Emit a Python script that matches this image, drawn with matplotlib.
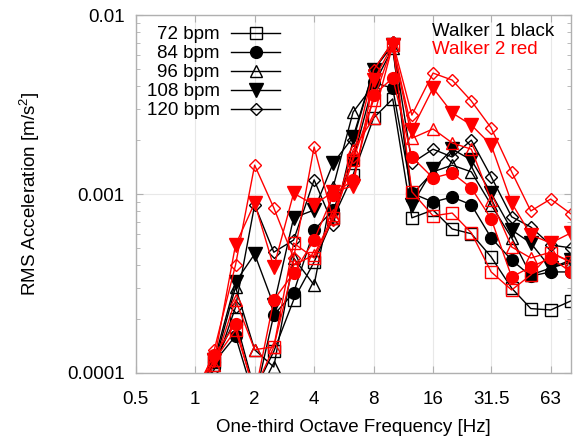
import matplotlib
matplotlib.use('Agg')

import matplotlib.pyplot as plt
from matplotlib.lines import Line2D
from matplotlib.ticker import FixedLocator, FixedFormatter, NullLocator, LogLocator

plt.rcParams['font.family'] = ['Liberation Sans', 'DejaVu Sans']
plt.rcParams['mathtext.fontset'] = 'custom'
plt.rcParams['mathtext.rm'] = 'Liberation Sans'

# ------------------ DATA ------------------

freq = [1, 1.25, 1.6, 2, 2.5, 3.15, 4, 5, 6.3, 8, 10, 12.5, 16, 20, 25, 31.5, 40, 50, 63, 80]

bpm_labels = ['72 bpm', '84 bpm', '96 bpm', '108 bpm', '120 bpm']

# Walker 1 (black)
w1_72 = [0.00008, 0.000115, 0.0002, 0.00008, 0.000132, 0.000256, 0.000417, 0.000736, 0.00128, 0.00266,
         0.0034, 0.000736, 0.000814, 0.000638, 0.0006, 0.000445, 0.000298, 0.000229, 0.000225, 0.000253]
w1_84 = [0.000071, 0.000115, 0.000161, 0.000071, 0.000211, 0.000281, 0.00063, 0.000814, 0.00155, 0.0042,
         0.0039, 0.00101, 0.000902, 0.000962, 0.00087, 0.000569, 0.000428, 0.000348, 0.000367, 0.000367]
w1_96 = [0.000075, 0.000111, 0.000302, 0.000135, 0.000108, 0.000439, 0.00031, 0.0011, 0.00287, 0.00406,
         0.00654, 0.00099, 0.00133, 0.00145, 0.00133, 0.00087, 0.000569, 0.000353, 0.000386, 0.000417]
w1_108 = [0.000075, 0.000118, 0.000322, 0.000462, 0.000239, 0.000736, 0.000814, 0.00149, 0.00208, 0.00493,
          0.0068, 0.00087, 0.00138, 0.00178, 0.00155, 0.00101, 0.00063, 0.000532, 0.000386, 0.000428]
w1_120 = [0.000071, 0.000105, 0.000233, 0.00087, 0.000473, 0.000553, 0.0012, 0.000671, 0.002, 0.00493,
          0.00707, 0.00149, 0.00178, 0.00161, 0.002, 0.00125, 0.000746, 0.000654, 0.000519, 0.0005]

# Walker 2 (red)
w2_72 = [0.00008, 0.000118, 0.000174, 0.00008, 0.00014, 0.000532, 0.000439, 0.000736, 0.00155, 0.00335,
         0.0068, 0.00103, 0.000755, 0.000783, 0.000607, 0.000367, 0.000291, 0.000353, 0.000467, 0.000417]
w2_84 = [0.00008, 0.000126, 0.000188, 0.000075, 0.000256, 0.000362, 0.000553, 0.00099, 0.0012, 0.00357,
         0.00445, 0.00161, 0.00123, 0.00131, 0.00108, 0.000727, 0.000344, 0.000391, 0.000439, 0.000367]
w2_96 = [0.000075, 0.000111, 0.000256, 0.000135, 0.00014, 0.000401, 0.000456, 0.000764, 0.00176, 0.00266,
         0.0068, 0.00205, 0.00231, 0.00193, 0.00178, 0.000925, 0.000506, 0.000439, 0.000473, 0.000417]
w2_108 = [0.00008, 0.000118, 0.000519, 0.000891, 0.000391, 0.00101, 0.00087, 0.00103, 0.00111, 0.00433,
          0.0068, 0.00228, 0.00391, 0.00284, 0.00243, 0.00188, 0.000891, 0.000592, 0.000532, 0.000607]
w2_120 = [0.000071, 0.000135, 0.000401, 0.00145, 0.000837, 0.000439, 0.00183, 0.000716, 0.00161, 0.00493,
          0.00707, 0.00276, 0.00474, 0.00433, 0.00331, 0.00234, 0.00133, 0.000804, 0.000937, 0.000774]

xticks = [0.5, 1, 2, 4, 8, 16, 31.5, 63]
xtick_labels = ['0.5', '1', '2', '4', '8', '16', '31.5', '63']
yticks = [0.0001, 0.001, 0.01]
ytick_labels = ['0.0001', '0.001', '0.01']

# marker, size, filled
styles = [('s', 8, False), ('o', 8.5, True), ('^', 9, False), ('v', 9.5, True), ('D', 6.5, False)]

FS = 13.5

# ------------------ PLOT ------------------

fig = plt.figure(figsize=(5.79, 4.36), dpi=100)
ax = fig.add_axes([0.2344, 0.1445, 0.752, 0.821])


def draw_series(series, color):
    for vals, (mk, ms, filled) in zip(series, styles):
        ax.plot(freq, vals, color=color, lw=1.0, marker=mk, ms=ms,
                mfc=color if filled else 'none', mec=color, mew=1.0, clip_on=True)


draw_series([w1_72, w1_84, w1_96, w1_108, w1_120], 'black')
draw_series([w2_72, w2_84, w2_96, w2_108, w2_120], 'red')

ax.set_xscale('log')
ax.set_yscale('log')
ax.set_xlim(0.5, 80)
ax.set_ylim(0.0001, 0.01)

ax.xaxis.set_major_locator(FixedLocator(xticks))
ax.xaxis.set_major_formatter(FixedFormatter(xtick_labels))
ax.xaxis.set_minor_locator(NullLocator())
ax.yaxis.set_major_locator(FixedLocator(yticks))
ax.yaxis.set_major_formatter(FixedFormatter(ytick_labels))
ax.yaxis.set_minor_locator(LogLocator(base=10, subs=range(2, 10)))

ax.tick_params(axis='both', which='both', direction='in', top=True, right=True,
               color='#b0b0b0', labelsize=FS)
ax.tick_params(axis='x', which='both', pad=13)
ax.tick_params(axis='y', which='both', pad=8)
ax.tick_params(axis='both', which='major', length=5)
ax.tick_params(axis='both', which='minor', length=3)

for sp in ax.spines.values():
    sp.set_color('#b0b0b0')
    sp.set_linewidth(1.0)

ax.grid(True, which='major', color='#e8e8e8', lw=0.8)
ax.set_axisbelow(True)

ax.set_xlabel('One-third Octave Frequency [Hz]', fontsize=FS, labelpad=8)
ax.set_ylabel('RMS Acceleration [m/s$^2$]', fontsize=FS, labelpad=18)

handles = [Line2D([], [], color='black', lw=1.0, marker=mk, ms=ms,
                  mfc='black' if filled else 'none', mec='black')
           for mk, ms, filled in styles]
leg = ax.legend(handles, bpm_labels, loc='upper left', frameon=False, markerfirst=False,
                fontsize=FS, handlelength=2.6, labelspacing=0.1, borderaxespad=0.2,
                bbox_to_anchor=(0.0, 1.0), handletextpad=0.6)
for t in leg.get_texts():
    t.set_ha('right')
leg._legend_box.align = 'right'

ax.text(0.68, 0.955, 'Walker 1 black', transform=ax.transAxes, fontsize=FS,
        color='black', ha='left', va='center')
ax.text(0.68, 0.905, 'Walker 2 red', transform=ax.transAxes, fontsize=FS,
        color='red', ha='left', va='center')

plt.savefig('out.png', dpi=100)
plt.close()
